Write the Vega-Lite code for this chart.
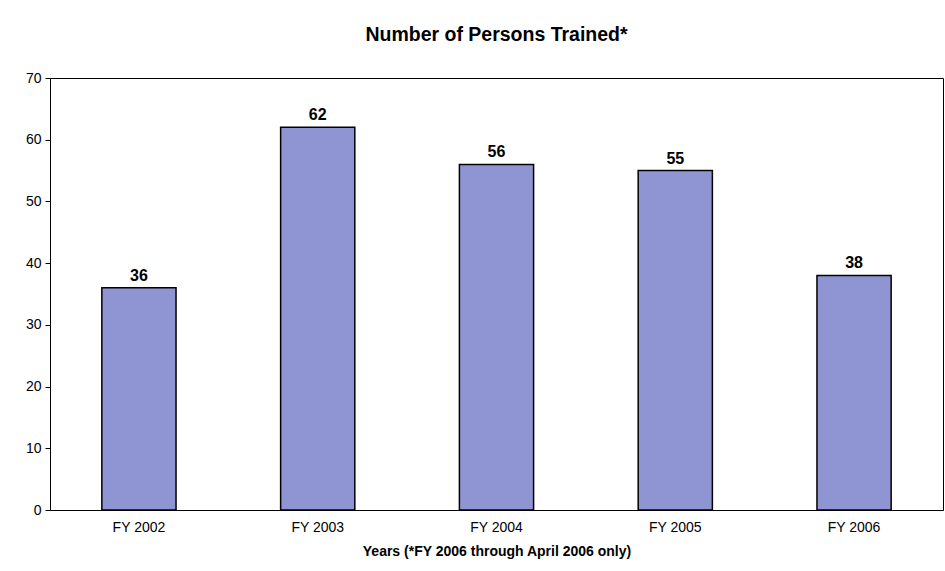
{
  "$schema": "https://vega.github.io/schema/vega-lite/v6.json",
  "autosize": "none",
  "width": 893,
  "height": 432,
  "padding": {"left": 50, "top": 78, "right": 2, "bottom": 61},
  "background": "white",
  "title": {
    "text": "Number of Persons Trained*",
    "font": "Liberation Sans",
    "fontSize": 19.5,
    "fontWeight": "bold",
    "color": "#000",
    "offset": 26,
    "anchor": "middle"
  },
  "config": {
    "view": {"stroke": "#000", "strokeWidth": 1},
    "font": "Liberation Sans"
  },
  "data": {
    "values": [
      {"year": "FY 2002", "persons": 36},
      {"year": "FY 2003", "persons": 62},
      {"year": "FY 2004", "persons": 56},
      {"year": "FY 2005", "persons": 55},
      {"year": "FY 2006", "persons": 38}
    ]
  },
  "encoding": {
    "x": {
      "field": "year",
      "type": "nominal",
      "scale": {"paddingInner": 0.585, "paddingOuter": 0.29},
      "axis": {
        "title": "Years (*FY 2006 through April 2006 only)",
        "titleFont": "Liberation Sans",
        "titleFontSize": 14,
        "titleFontWeight": "bold",
        "titleColor": "#000",
        "titlePadding": 10,
        "labelAngle": 0,
        "labelFontSize": 14,
        "labelColor": "#000",
        "labelPadding": 10,
        "ticks": false,
        "domainColor": "#000"
      }
    },
    "y": {
      "field": "persons",
      "type": "quantitative",
      "scale": {"domain": [0, 70]},
      "axis": {
        "title": null,
        "values": [0, 10, 20, 30, 40, 50, 60, 70],
        "grid": false,
        "labelFontSize": 14,
        "labelColor": "#000",
        "tickColor": "#000",
        "tickSize": 5,
        "labelPadding": 4,
        "domainColor": "#000"
      }
    }
  },
  "layer": [
    {
      "mark": {"type": "bar", "color": "#8f95d3", "stroke": "#000", "strokeWidth": 1.5}
    },
    {
      "mark": {"type": "text", "dy": -12, "fontSize": 16, "fontWeight": "bold", "color": "#000"},
      "encoding": {"text": {"field": "persons", "type": "quantitative"}}
    }
  ]
}
